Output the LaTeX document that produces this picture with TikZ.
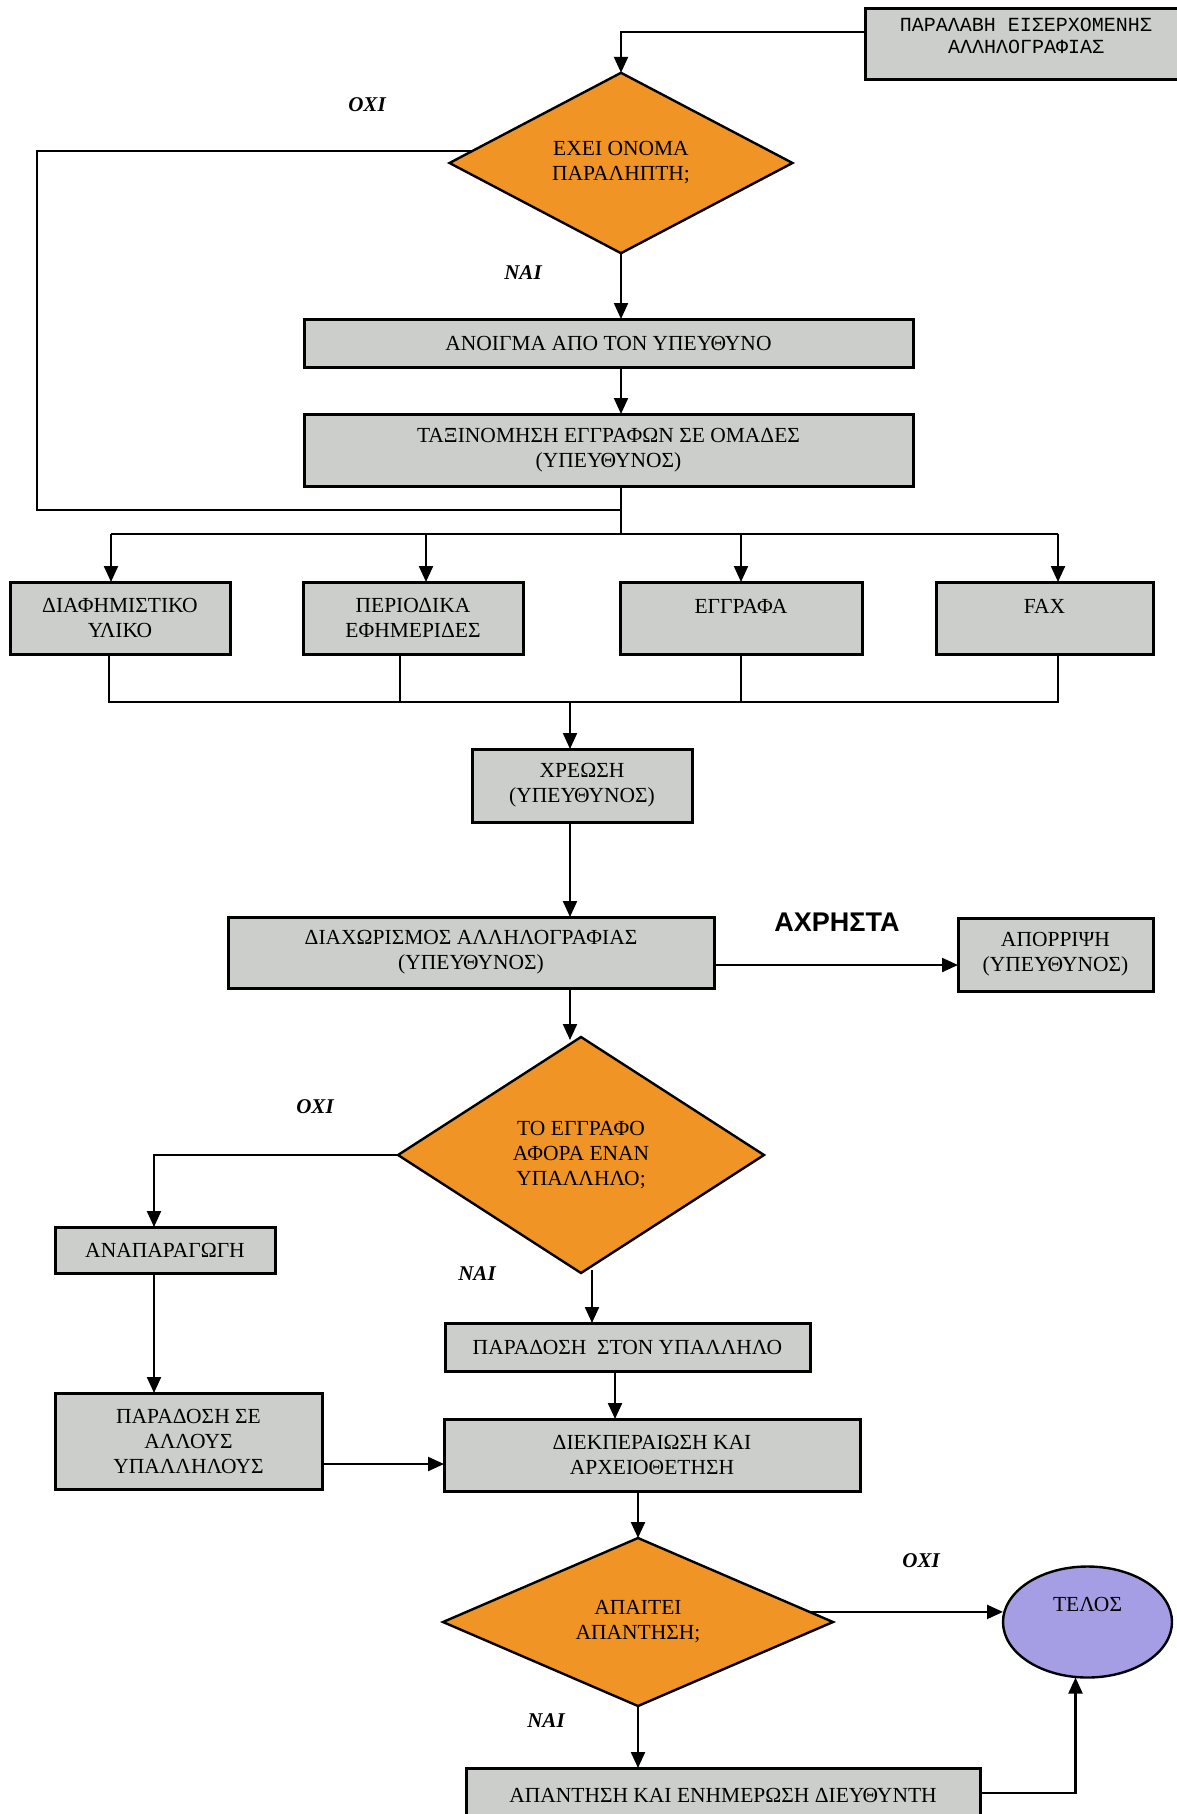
\documentclass[tikz,border=0pt]{standalone}
\usepackage{fontspec}
\setmainfont{Liberation Serif}
\newfontfamily\monofont{Liberation Mono}
\newfontfamily\labelsans{Liberation Sans}
\usetikzlibrary{arrows.meta,shapes.geometric,calc}
\definecolor{boxgray}{RGB}{204,206,204}
\definecolor{decorange}{RGB}{240,148,38}
\definecolor{endlav}{RGB}{166,158,228}
\begin{document}
\begin{tikzpicture}[x=1pt,y=-1pt,
  every node/.style={inner sep=0pt,outer sep=0pt},
  txt/.style={align=center,font=\fontsize{21.5}{25}\selectfont},
  box/.style={draw=black,line width=3pt,fill=boxgray,rectangle,txt},
  dec/.style={draw=black,line width=2.4pt,fill=decorange,diamond,txt},
  endnode/.style={draw=black,line width=2.4pt,fill=endlav,ellipse},
  yesno/.style={font=\fontsize{21}{24}\selectfont\bfseries\itshape},
  conn/.style={line width=2.2pt},
  arr/.style={conn,-{Triangle[length=16pt,width=14pt]}}]

\fill[white] (0,0) rectangle (1176,1814);
\useasboundingbox (0,0) rectangle (1176,1814);

% ---- reception and first decision
\node[box,minimum width=322,minimum height=71] (top) at (1026,44.5) {};
\node[font=\monofont\fontsize{20}{22}\selectfont,align=center] (top-t) at (1026,36)
  {ΠΑΡΑΛΑΒΗ ΕΙΣΕΡΧΟΜΕΝΗΣ\\ΑΛΛΗΛΟΓΡΑΦΙΑΣ};
\node[dec,minimum width=343,minimum height=166] (d1) at (621,163) {ΕΧΕΙ ΟΝΟΜΑ\\ΠΑΡΑΛΗΠΤΗ;};
\node[yesno] (d1-no) at (367,105) {ΟΧΙ};
\node[yesno] (d1-yes) at (523,273) {ΝΑΙ};

\node[box,minimum width=609,minimum height=48] (open) at (608.5,343) {ΑΝΟΙΓΜΑ ΑΠΟ ΤΟΝ ΥΠΕΥΘΥΝΟ};
\node[box,minimum width=609,minimum height=72] (sort) at (608.5,450) {ΤΑΞΙΝΟΜΗΣΗ ΕΓΓΡΑΦΩΝ ΣΕ ΟΜΑΔΕΣ\\(ΥΠΕΥΘΥΝΟΣ)};

\coordinate (t0) at (865,32);
\draw[arr] (t0) -| (d1.north);
\draw[arr] (d1.south) -- (d1.south |- open.north);
\draw[arr] (d1.south |- open.south) -- (d1.south |- sort.north);

% ---- split into the four groups
\coordinate (split) at (621,534);
\coordinate (join) at (621,510);
\coordinate (d1-l) at ($(d1.west)!0.13!(d1.north)$);
\draw[conn] (d1.south |- sort.south) -- (split);
\draw[conn] (d1-l) -| (37,510) -- (join);

\node[box,minimum width=220,minimum height=72] (ga) at (120,618) {ΔΙΑΦΗΜΙΣΤΙΚΟ\\ΥΛΙΚΟ};
\node[box,minimum width=220,minimum height=72] (gb) at (413,618) {ΠΕΡΙΟΔΙΚΑ\\ΕΦΗΜΕΡΙΔΕΣ};
\node[box,minimum width=242,minimum height=72] (gc) at (741,618) {};
\node[txt] (gc-t) at (741,606) {ΕΓΓΡΑΦΑ};
\node[box,minimum width=217,minimum height=72] (gd) at (1044.5,618) {};
\node[txt] (gd-t) at (1044.5,606) {FAX};

\draw[conn] (111,534) -- (1058,534);
\draw[arr] (111,534) -- (111,582);
\draw[arr] (426,534) -- (426,582);
\draw[arr] (741,534) -- (741,582);
\draw[arr] (1058,534) -- (1058,582);

% ---- merge and charging
\coordinate (merge) at (570,702);
\draw[conn] (109,654) -- (109,702) -- (1058,702) -- (1058,654);
\draw[conn] (400,654) -- (400,702);
\draw[conn] (741,654) -- (741,702);

\node[box,minimum width=220,minimum height=73] (charge) at (582,785.5) {ΧΡΕΩΣΗ\\(ΥΠΕΥΘΥΝΟΣ)};
\draw[arr] (merge) -- (merge |- charge.north);

\node[box,minimum width=486,minimum height=71] (sep) at (471,952.5) {ΔΙΑΧΩΡΙΣΜΟΣ ΑΛΛΗΛΟΓΡΑΦΙΑΣ\\(ΥΠΕΥΘΥΝΟΣ)};
\draw[arr] (merge |- charge.south) -- (merge |- sep.north);

\node[box,minimum width=195,minimum height=73] (disc) at (1055.5,954.5) {ΑΠΟΡΡΙΨΗ\\(ΥΠΕΥΘΥΝΟΣ)};
\node[font=\labelsans\bfseries\fontsize{27}{30}\selectfont] (unused) at (837,922) {ΑΧΡΗΣΤΑ};
\coordinate (sep-r) at (714,965);
\draw[arr] (sep-r) -- (sep-r -| disc.west);

% ---- second decision
\node[dec,minimum width=366,minimum height=236] (d2) at (581,1155) {ΤΟ ΕΓΓΡΑΦΟ\\ΑΦΟΡΑ ΕΝΑΝ\\ΥΠΑΛΛΗΛΟ;};
\draw[arr] (merge |- sep.south) -- ($(merge |- d2.north)+(0,3)$);
\node[yesno] (d2-no) at (315,1107) {ΟΧΙ};
\node[yesno] (d2-yes) at (477,1274) {ΝΑΙ};

\node[box,minimum width=220,minimum height=46] (repro) at (165,1250) {ΑΝΑΠΑΡΑΓΩΓΗ};
\node[box,minimum width=267,minimum height=96] (others) at (188.5,1441) {ΠΑΡΑΔΟΣΗ ΣΕ\\ΑΛΛΟΥΣ\\ΥΠΑΛΛΗΛΟΥΣ};
\coordinate (lcol) at (154,1155);
\draw[arr] (d2.west) -- (lcol) -- (lcol |- repro.north);
\draw[arr] (lcol |- repro.south) -- (lcol |- others.north);

\node[box,minimum width=365,minimum height=48] (deliver) at (627.5,1347) {ΠΑΡΑΔΟΣΗ \ ΣΤΟΝ ΥΠΑΛΛΗΛΟ};
\coordinate (d2-b) at ($(d2.south)+(11,-3)$);
\draw[arr] (d2-b) -- (d2-b |- deliver.north);

\node[box,minimum width=416,minimum height=72] (proc) at (652,1455) {ΔΙΕΚΠΕΡΑΙΩΣΗ ΚΑΙ\\ΑΡΧΕΙΟΘΕΤΗΣΗ};
\coordinate (pcol) at (615,1371);
\draw[arr] (pcol) -- (pcol |- proc.north);
\coordinate (o-r) at (322,1464);
\draw[arr] (o-r) -- (o-r -| proc.west);

% ---- third decision and end
\node[dec,minimum width=390,minimum height=168] (d3) at (638,1622) {ΑΠΑΙΤΕΙ\\ΑΠΑΝΤΗΣΗ;};
\draw[arr] (d3.north |- proc.south) -- (d3.north);
\node[yesno] (d3-no) at (921,1561) {ΟΧΙ};
\node[yesno] (d3-yes) at (546,1721) {ΝΑΙ};

\node[endnode,minimum width=169,minimum height=111] (end) at (1087.5,1622) {};
\node[txt] (end-t) at (1087.5,1604) {ΤΕΛΟΣ};
\coordinate (d3-r) at ($(d3.east)!0.12!(d3.north)$);
\draw[arr] (d3-r) -- (d3-r -| end.west);

\node[box,minimum width=514,minimum height=82] (reply) at (723,1809) {};
\node[txt] (reply-t) at (723,1795) {ΑΠΑΝΤΗΣΗ ΚΑΙ ΕΝΗΜΕΡΩΣΗ ΔΙΕΥΘΥΝΤΗ};
\draw[arr] (d3.south) -- (d3.south |- reply.north);
\coordinate (r-r) at (980,1793);
\draw[arr] (r-r) -| ($(end.south)+(-12,0)$);
\end{tikzpicture}
\end{document}
